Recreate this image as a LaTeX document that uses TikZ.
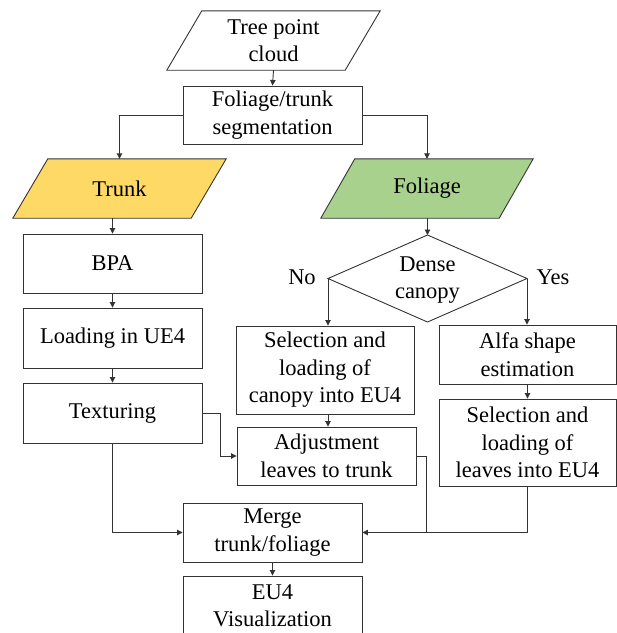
\documentclass[tikz,border=0pt]{standalone}
\usepackage{fontspec}
\newfontfamily\tnrfont{Liberation Serif}
\usetikzlibrary{arrows.meta,backgrounds}
\definecolor{trunkfill}{HTML}{FFD966}
\definecolor{foliagefill}{HTML}{A9D18E}
\definecolor{edge}{HTML}{333333}
\tikzset{
  x=1pt,y=-1pt,
  every node/.style={font=\tnrfont\fontsize{22.5pt}{27.5pt}\selectfont, align=center, inner sep=0pt, text=black},
  stepbox/.style={draw=edge, line width=0.9pt, fill=white, minimum width=179pt},
  paranode/.style={minimum width=178pt, minimum height=59pt},
  arr/.style={draw=edge, line width=0.9pt, -{Triangle[length=5.5pt,width=5.5pt]}},
  conn/.style={draw=edge, line width=0.9pt},
  paraline/.style={draw=edge, line width=0.9pt},
}
\newcommand{\paradraw}[3]{% node, slant/2, fill
  \path[paraline, fill=#3] ([xshift=#2pt]#1.north west) -- ([xshift=#2pt]#1.north east)
    -- ([xshift=-#2pt]#1.south east) -- ([xshift=-#2pt]#1.south west) -- cycle;}
\begin{document}
\begin{tikzpicture}
\useasboundingbox (0,0) rectangle (617,633);
% parallelogram nodes (text only, shapes drawn on background)
\node[paranode] (cloud) at (273.5,40.5) {Tree point\\cloud};
\node[paranode] (trunk) at (119.5,188.5) {Trunk};
\node[paranode] (foliage) at (427,188.5) {Foliage};
\begin{scope}[on background layer]
  \paradraw{cloud}{17.5}{white}
  \paradraw{trunk}{17.5}{trunkfill}
  \paradraw{foliage}{17}{foliagefill}
\end{scope}
% boxes
\node[stepbox, minimum height=58pt] (seg) at (272.5,115) {Foliage/trunk\\segmentation};
\node[stepbox, minimum height=59pt] (bpa) at (112.5,263.5) {BPA};
\node[stepbox, minimum height=60pt] (load) at (112.5,338) {Loading in UE4};
\node[stepbox, minimum height=60pt] (tex) at (112.5,413) {Texturing};
\node[stepbox, minimum width=178pt, minimum height=88pt] (canopy) at (325,370) {Selection and\\loading of\\canopy into EU4};
\node[stepbox, minimum height=58pt] (adj) at (326.5,456) {Adjustment\\leaves to trunk};
\node[stepbox, minimum width=177pt, minimum height=59pt] (alfa) at (527.5,354.5) {Alfa shape\\estimation};
\node[stepbox, minimum width=177pt, minimum height=87pt] (leaves) at (527.5,442.5) {Selection and\\loading of\\leaves into EU4};
\node[stepbox, minimum height=59pt] (merge) at (272.5,532.5) {Merge\\trunk/foliage};
\node[stepbox, minimum height=60pt] (vis) at (272.5,606) {EU4\\Visualization};
% decision diamond
\coordinate (dT) at (427.5,235);
\coordinate (dL) at (328,278.5);
\coordinate (dR) at (527,278.5);
\coordinate (dB) at (427.5,322);
\path[paraline, fill=white] (dT) -- (dR) -- (dB) -- (dL) -- cycle;
\node (dec) at (427.5,280) {Dense\\canopy};
\node (no) at (302,277) {No};
\node (yes) at (553,277) {Yes};
% connectors
\draw[arr] (cloud.south) -- (seg.north);
\draw[arr] (seg.west) -| (trunk.north);
\draw[arr] (seg.east) -| (foliage.north);
\draw[arr] (trunk.south -| bpa.north) -- (bpa.north);
\draw[arr] (bpa) -- (load);
\draw[arr] (load) -- (tex);
\draw[arr] (foliage.south -| dT) -- (dT);
\draw[arr] (dL) -- (dL |- canopy.north);
\draw[arr] (dR) -- (dR |- alfa.north);
\draw[arr] (canopy.south -| dL) -- (adj.north -| dL);
\draw[arr] (alfa) -- (leaves);
\draw[arr] (tex.east |- 0,413) -- ++(18,0) |- (adj.west);
\draw[arr] (tex.south) |- (merge.west);
\draw[arr] (adj.east) -- ++(10,0) |- (merge.east);
\draw[conn] (leaves.south) |- (merge.east);
\draw[arr] (merge) -- (vis);
\end{tikzpicture}
\end{document}
